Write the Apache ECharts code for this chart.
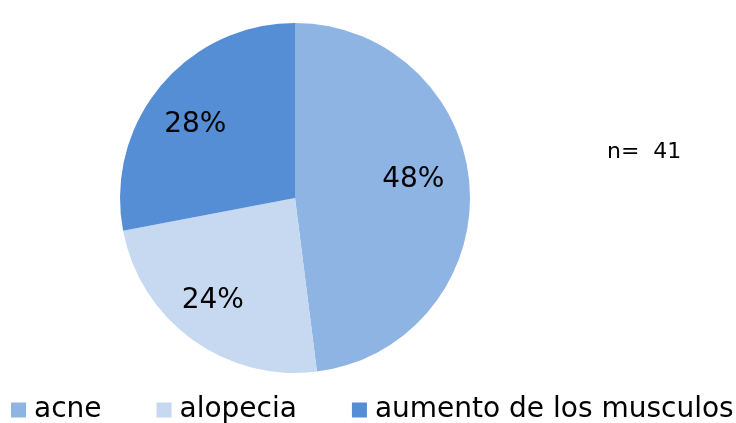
<!DOCTYPE html>
<html>
<head>
<meta charset="utf-8">
<script src="https://cdn.jsdelivr.net/npm/echarts@6/dist/echarts.min.js"></script>
<style>
html,body{margin:0;padding:0;background:#fff;}
#c{width:736px;height:423px;}
</style>
</head>
<body>
<div id="c"></div>
<script>
var categories = ['acne', 'alopecia', 'aumento de los musculos'];
var values = [48, 24, 28];
var colors = ['#8EB4E3', '#C6D9F1', '#558ED5'];
var noteText = 'n=  41';

var labelShift = [[28, -13], [-29, 30], [-30, -16]];

var chart = echarts.init(document.getElementById('c'), null, {renderer: 'canvas'});
chart.setOption({
  animation: false,
  backgroundColor: '#ffffff',
  title: {
    text: noteText,
    left: 607,
    top: 141,
    padding: 0,
    textStyle: {fontFamily: 'DejaVu Sans', fontSize: 22, fontWeight: 'normal', color: '#000'}
  },
  legend: {
    data: categories,
    left: 11,
    top: 396,
    itemWidth: 15,
    itemHeight: 15,
    itemGap: 55,
    icon: 'rect',
    padding: 0,
    textStyle: {fontFamily: 'DejaVu Sans', fontSize: 28, color: '#000', padding: [0, 0, 0, 3]}
  },
  series: [{
    type: 'pie',
    center: [295, 198],
    radius: 175,
    startAngle: 90,
    clockwise: true,
    itemStyle: {borderWidth: 0},
    label: {
      show: true,
      position: 'inside',
      formatter: '{c}%',
      fontFamily: 'DejaVu Sans',
      fontSize: 28,
      color: '#000'
    },
    labelLine: {show: false},
    emphasis: {disabled: true},
    labelLayout: function (p) {
      var s = labelShift[p.dataIndex];
      return {dx: s[0], dy: s[1]};
    },
    data: categories.map(function (n, i) {
      return {name: n, value: values[i], itemStyle: {color: colors[i]}};
    })
  }]
});
</script>
</body>
</html>
